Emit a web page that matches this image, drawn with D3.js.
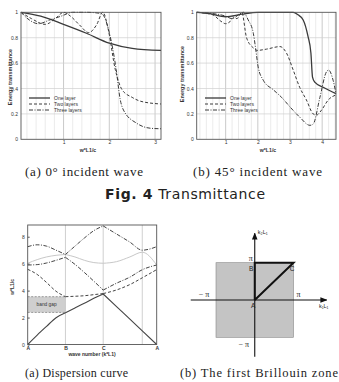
<!DOCTYPE html>
<html>
<head>
<meta charset="utf-8">
<script src="https://cdn.jsdelivr.net/npm/d3@7"></script>
<style>
body { margin: 0; background: #fff; }
svg { display: block; }
</style>
</head>
<body>
<svg id="chart" width="339" height="382"></svg>
<script>
// ---- data: transmittance at 0 deg (x = w*L1/c, y = energy transmittance)
var zeroOne = [[0.07, 1.0], [0.5, 0.97], [1.0, 0.905], [1.5, 0.835], [2.0, 0.757], [2.5, 0.716], [3.13, 0.70]]
var zeroTwo = [[0.07, 1.0], [0.3, 0.95], [0.6, 0.905], [0.85, 0.96], [1.0, 1.0], [1.15, 0.97], [1.35, 0.9], [1.55, 0.84],
    [1.72, 0.9], [1.86, 1.0], [1.98, 0.86], [2.13, 0.55], [2.28, 0.39], [2.5, 0.33], [2.68, 0.30], [3.13, 0.278]]
var zeroThree = [[0.07, 1.0], [0.25, 0.94], [0.45, 0.91], [0.7, 0.94], [0.95, 0.97], [1.2, 1.0], [1.5, 1.0], [1.83, 0.99],
    [2.0, 0.84], [2.15, 0.55], [2.24, 0.31], [2.31, 0.23], [2.6, 0.126], [2.9, 0.087], [3.13, 0.083]]

// ---- data: transmittance at 45 deg
var ffOne = [[0.1, 1.0], [0.5, 0.99], [1.0, 0.965], [1.5, 0.985], [2.0, 1.0], [3.1, 1.0], [3.25, 0.98], [3.41, 0.94],
    [3.56, 0.81], [3.65, 0.68], [3.7, 0.49], [3.77, 0.45], [4.03, 0.41], [4.43, 0.36]]
var ffTwo = [[0.1, 1.0], [0.6, 0.98], [0.85, 0.93], [1.0, 0.91], [1.15, 0.93], [1.25, 0.96], [1.35, 0.95], [1.5, 1.0],
    [1.65, 0.8], [1.86, 0.72], [1.98, 0.70], [2.27, 0.71], [2.69, 0.73], [2.89, 0.68], [3.1, 0.545], [3.3, 0.41],
    [3.51, 0.31], [3.72, 0.20], [3.82, 0.19], [3.98, 0.23], [4.19, 0.31], [4.43, 0.35]]
var ffThree = [[0.1, 1.0], [0.6, 0.99], [1.0, 0.97], [1.2, 0.95], [1.4, 0.98], [1.55, 1.0], [1.7, 0.94], [1.86, 0.835],
    [1.94, 0.70], [2.01, 0.57], [2.17, 0.465], [2.48, 0.39], [2.74, 0.33], [3.0, 0.255], [3.3, 0.175], [3.62, 0.11],
    [3.72, 0.12], [3.93, 0.33], [4.13, 0.53], [4.2, 0.545], [4.34, 0.465], [4.43, 0.36]]

var transYTicks = [0, 0.2, 0.4, 0.6, 0.8, 1]
var zeroXTicks = [1, 2, 3]
var ffXTicks = [1, 2, 3, 4]
var legendNames = ['One layer', 'Two layers', 'Three layers']

// ---- data: dispersion curve (s = distance along A-B-C-A path, w*L1/c)
var pathS = [0, 0.79, 1.57, 2.36, 3.14, 3.93, 4.71, 5.50, 6.28, 7.39, 8.50, 9.53, 10.73]
var band1 = [0, 0.70, 1.35, 1.99, 2.36, 2.71, 3.06, 3.43, 3.75, 2.81, 1.88, 1.01, 0]
var band2 = [5.58, 5.2, 4.6, 3.95, 3.55, 3.58, 3.62, 3.7, 3.78, 4.05, 4.45, 4.95, 5.56]
var band3 = [5.9, 5.93, 6.05, 6.25, 6.47, 5.95, 5.35, 4.7, 4.04, 4.55, 5.0, 5.55, 5.9]
var band4 = [6.03, 6.3, 6.5, 6.62, 6.68, 6.5, 6.25, 6.08, 6.03, 6.15, 6.5, 6.85, 5.9]
var band5 = [7.26, 7.4, 7.3, 7.0, 6.68, 7.3, 7.9, 8.45, 8.8, 8.2, 7.6, 7.0, 7.26]
var pointNames = ['A', 'B', 'C', 'A']
var pointS = [0, 3.14, 6.28, 10.73]
var extraGridS = [9.53]
var dispYTicks = [0, 2, 4, 6, 8]
var bandGap = [2.38, 3.55]

var svg = d3.select('#chart')
var sans = 'Liberation Sans, Arial, sans-serif'
var serif = 'Liberation Serif, DejaVu Serif, serif'
var solid = null, dashed = '3,2', dashDot = '4,1.5,1,1.5'

function transPanel(o) {
    var x = d3.scaleLinear().domain(o.xDomain).range([o.left, o.right])
    var y = d3.scaleLinear().domain([0, 1]).range([o.bottom, o.top])
    var g = svg.append('g')

    // minor vertical grid every 0.2
    var minor = d3.range(0.2, o.xDomain[1], 0.2).filter(v => v > o.xDomain[0] && Math.abs(v - Math.round(v)) > 0.01)
    g.selectAll('.minor').data(minor).enter().append('line')
        .attr('x1', d => x(d)).attr('x2', d => x(d)).attr('y1', o.top).attr('y2', o.bottom)
        .attr('stroke', '#e2e2e2').attr('stroke-width', 0.7)
    g.selectAll('.major').data(o.xTicks).enter().append('line')
        .attr('x1', d => x(d)).attr('x2', d => x(d)).attr('y1', o.top).attr('y2', o.bottom)
        .attr('stroke', '#bdbdbd').attr('stroke-width', 0.8)
    g.selectAll('.hgrid').data(transYTicks.slice(1, -1)).enter().append('line')
        .attr('x1', o.left).attr('x2', o.right).attr('y1', d => y(d)).attr('y2', d => y(d))
        .attr('stroke', '#d0d0d0').attr('stroke-width', 0.7)

    var line = d3.line().x(d => x(d[0])).y(d => y(d[1])).curve(d3.curveMonotoneX)
    var series = [[o.one, solid, 1.3], [o.two, dashed, 1], [o.three, dashDot, 1]]
    g.selectAll('.curve').data(series).enter().append('path')
        .attr('d', d => line(d[0]))
        .attr('fill', 'none').attr('stroke', '#3a3a3a')
        .attr('stroke-width', d => d[2])
        .attr('stroke-dasharray', d => d[1])

    g.append('rect').attr('x', o.left).attr('y', o.top)
        .attr('width', o.right - o.left).attr('height', o.bottom - o.top)
        .attr('fill', 'none').attr('stroke', '#555').attr('stroke-width', 0.9)

    var xAxis = d3.axisBottom(x).tickValues(o.xTicks).tickSize(0).tickPadding(1.5).tickFormat(d3.format('~g'))
    var ax = g.append('g').attr('transform', 'translate(0,' + o.bottom + ')').call(xAxis)
    var yAxis = d3.axisLeft(y).tickValues(transYTicks).tickSize(0).tickPadding(3).tickFormat(d3.format('~g'))
    var ay = g.append('g').attr('transform', 'translate(' + o.left + ',0)').call(yAxis)
    ;[ax, ay].forEach(a => {
        a.select('.domain').remove()
        a.selectAll('text').attr('font-size', 5).attr('font-family', sans).attr('fill', '#333')
    })

    g.append('text').attr('x', o.xLabelX).attr('y', 151.5)
        .attr('text-anchor', 'middle').attr('font-size', 5.2).attr('font-weight', 'bold')
        .attr('font-family', sans).attr('fill', '#333').text('w*L1/c')
    g.append('text').attr('transform', 'translate(' + o.yLabelX + ',' + o.yLabelY + ') rotate(-90)')
        .attr('text-anchor', 'middle').attr('font-size', 5.5).attr('font-weight', 'bold')
        .attr('font-family', sans).attr('fill', '#333').text('Energy transmittance')

    var leg = g.selectAll('.leg').data(series).enter().append('g')
        .attr('transform', (d, i) => 'translate(' + o.legX + ',' + (98 + i * 6) + ')')
    leg.append('line').attr('x1', 0).attr('x2', 21).attr('stroke', '#3a3a3a')
        .attr('stroke-width', d => d[2]).attr('stroke-dasharray', d => d[1])
    leg.append('text').attr('x', 25).attr('y', 1.8).attr('font-size', 5).attr('font-family', sans)
        .attr('fill', '#333').text((d, i) => legendNames[i])
}

transPanel({ xDomain: [0.07, 3.13], left: 21, right: 161, top: 12.3, bottom: 139.3, xTicks: zeroXTicks,
    one: zeroOne, two: zeroTwo, three: zeroThree, yLabelX: 12, yLabelY: 77, legX: 29, xLabelX: 88 })
transPanel({ xDomain: [0.1, 4.43], left: 196.7, right: 336, top: 12.3, bottom: 139.3, xTicks: ffXTicks,
    one: ffOne, two: ffTwo, three: ffThree, yLabelX: 184, yLabelY: 74, legX: 205, xLabelX: 268 })

// ---- captions
function caption(txt, x0, x1, yb, size, fam) {
    return svg.append('text').attr('x', x0).attr('y', yb).attr('font-size', size)
        .attr('font-family', fam).attr('fill', '#222')
        .attr('textLength', x1 - x0).attr('lengthAdjust', 'spacing').text(txt)
}
caption('(a) 0° incident wave', 25, 143, 175.5, 13, serif)
caption('(b) 45° incident wave', 193, 322, 175.5, 13, serif)
var fig = svg.append('text').attr('x', 105).attr('y', 199).attr('font-size', 14)
    .attr('font-family', 'DejaVu Sans, sans-serif').attr('fill', '#222')
    .attr('textLength', 160).attr('lengthAdjust', 'spacing')
fig.append('tspan').attr('font-weight', 'bold').text('Fig. 4')
fig.append('tspan').text(' Transmittance')
caption('(a) Dispersion curve', 25, 128, 377, 12, serif)
caption('(b) The first Brillouin zone', 180, 338, 377, 12.5, serif)

// ---- dispersion curve
;(function () {
    var left = 27.7, right = 156.7, top = 225, bottom = 344.5
    var x = d3.scaleLinear().domain([0, 10.73]).range([left, right])
    var y = d3.scaleLinear().domain([0, 8.87]).range([bottom, top])
    var g = svg.append('g')

    g.append('rect').attr('x', x(pointS[0])).attr('width', x(pointS[1]) - x(pointS[0]))
        .attr('y', y(bandGap[1])).attr('height', y(bandGap[0]) - y(bandGap[1]))
        .attr('fill', '#cfcfcf')
    g.selectAll('.gapline').data(bandGap).enter().append('line')
        .attr('x1', x(pointS[0])).attr('x2', x(pointS[1])).attr('y1', d => y(d)).attr('y2', d => y(d))
        .attr('stroke', '#777').attr('stroke-width', 0.7).attr('stroke-dasharray', '2,1.5')
    g.append('text').attr('x', x(1.57)).attr('y', y((bandGap[0] + bandGap[1]) / 2) + 1.7)
        .attr('text-anchor', 'middle').attr('font-size', 4.8).attr('font-family', sans)
        .attr('fill', '#333').text('band gap')

    g.selectAll('.vgrid').data(pointS.slice(1, 3).concat(extraGridS)).enter().append('line')
        .attr('x1', d => x(d)).attr('x2', d => x(d)).attr('y1', top).attr('y2', bottom)
        .attr('stroke', '#c4c4c4').attr('stroke-width', 0.8)

    var bands = [[band4, null, '#c8c8c8', 1], [band1, null, '#444', 1.1], [band2, '3,2', '#444', 1],
        [band3, '4,1.5,1,1.5', '#444', 1], [band5, '4,1.5,1,1.5', '#444', 1]]
    var line = d3.line().x(d => x(d[0])).y(d => y(d[1])).curve(d3.curveMonotoneX)
    var segs = [[0, 4], [4, 8], [8, 12]]
    bands.forEach(b => {
        var pts = pathS.map((s, i) => [s, b[0][i]])
        var d = segs.map(r => line(pts.slice(r[0], r[1] + 1))).join('')
        g.append('path').attr('d', d).attr('fill', 'none').attr('stroke', b[2])
            .attr('stroke-width', b[3]).attr('stroke-dasharray', b[1])
    })

    g.append('rect').attr('x', left).attr('y', top).attr('width', right - left).attr('height', bottom - top)
        .attr('fill', 'none').attr('stroke', '#555').attr('stroke-width', 0.9)

    var ay = g.append('g').attr('transform', 'translate(' + left + ',0)')
        .call(d3.axisLeft(y).tickValues(dispYTicks).tickSize(-2).tickPadding(3))
    var ax = g.append('g').attr('transform', 'translate(0,' + bottom + ')')
        .call(d3.axisBottom(x).tickValues(pointS).tickSize(0).tickPadding(2).tickFormat((d, i) => pointNames[i]))
    ;[ax, ay].forEach(a => {
        a.select('.domain').remove()
        a.selectAll('line').attr('stroke', '#555')
        a.selectAll('text').attr('font-size', 5).attr('font-family', sans).attr('fill', '#333')
    })
    ax.selectAll('text').attr('font-weight', 'bold')
    g.append('text').attr('x', 92).attr('y', 355.5).attr('text-anchor', 'middle')
        .attr('font-size', 5).attr('font-weight', 'bold').attr('font-family', sans).attr('fill', '#333')
        .text('wave number (k*L1)')
    g.append('text').attr('transform', 'translate(14,287) rotate(-90)').attr('text-anchor', 'middle')
        .attr('font-size', 5).attr('font-weight', 'bold').attr('font-family', sans).attr('fill', '#333')
        .text('w*L1/c')
})()

// ---- first Brillouin zone
;(function () {
    var k = d3.scaleLinear().domain([-3.1416, 3.1416]).range([216, 293.5])
    var q = d3.scaleLinear().domain([-3.1416, 3.1416]).range([337.3, 262.7])
    var g = svg.append('g')
    svg.append('defs').append('marker').attr('id', 'arr').attr('viewBox', '0 0 10 10')
        .attr('refX', 9).attr('refY', 5).attr('markerWidth', 7).attr('markerHeight', 7)
        .attr('markerUnits', 'userSpaceOnUse').attr('orient', 'auto')
        .append('path').attr('d', 'M0,1L10,5L0,9Z').attr('fill', '#111')

    g.append('rect').attr('x', k(-3.1416)).attr('y', q(3.1416))
        .attr('width', k(3.1416) - k(-3.1416)).attr('height', q(-3.1416) - q(3.1416))
        .attr('fill', '#c4c4c4').attr('stroke', '#888').attr('stroke-width', 0.6)
    g.append('line').attr('x1', k(-5.19)).attr('x2', k(5.83)).attr('y1', q(0)).attr('y2', q(0))
        .attr('stroke', '#111').attr('stroke-width', 1.1).attr('marker-end', 'url(#arr)')
    g.append('line').attr('x1', k(0)).attr('x2', k(0)).attr('y1', q(-4.78)).attr('y2', q(5.62))
        .attr('stroke', '#111').attr('stroke-width', 1.1).attr('marker-end', 'url(#arr)')

    var zone = [[0, 0], [0, 3.1416], [3.1416, 3.1416], [0, 0]]
    g.append('path').attr('d', d3.line().x(d => k(d[0])).y(d => q(d[1]))(zone))
        .attr('fill', 'none').attr('stroke', '#111').attr('stroke-width', 2)

    var t = (x, y, s, size, fam, anchor) => g.append('text').attr('x', x).attr('y', y)
        .attr('font-size', size).attr('font-family', fam).attr('fill', '#222')
        .attr('text-anchor', anchor || 'middle').text(s)
    t(k(0) - 4, q(3.1416) - 2, 'π', 8, serif)
    t(k(0) - 3.5, q(3.1416) + 8, 'B', 6.5, sans)
    t(k(3.1416) - 1.5, q(3.1416) + 8, 'C', 6.5, sans)
    t(k(-3.1416) - 12, q(0) - 3, '− π', 8, serif)
    t(k(3.1416) + 5, q(0) - 3, 'π', 8, serif)
    t(k(0) - 1.5, q(0) + 8, 'A', 6.5, sans)
    t(k(0) - 11, q(-3.1416) + 10, '− π', 8, serif)
    t(k(0) + 3, q(5.62) + 1, 'k₂L₁', 5.5, sans, 'start')
    t(k(5.2), q(0) + 8, 'k₁L₁', 5.5, sans, 'start')
})()
</script>
</body>
</html>
